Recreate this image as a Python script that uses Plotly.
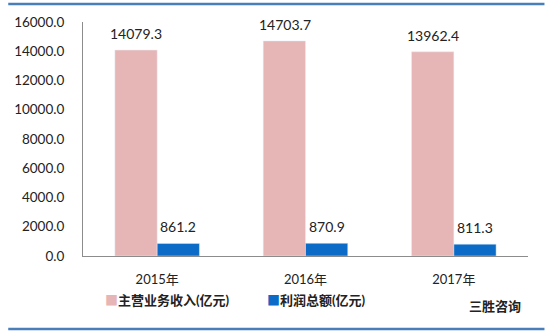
import plotly.graph_objects as go

years = ["2015年", "2016年", "2017年"]
revenue = [14079.3, 14703.7, 13962.4]
profit = [861.2, 870.9, 811.3]
series_names = ["主营业务收入(亿元)", "利润总额(亿元)"]
y_ticks = [0, 2000, 4000, 6000, 8000, 10000, 12000, 14000, 16000]
colors = ["#E6B5B6", "#0B6BC6"]

FONT = "Lato, 'Noto Sans CJK SC', sans-serif"

fig = go.Figure()
for vals, name, col in [(revenue, series_names[0], colors[0]), (profit, series_names[1], colors[1])]:
    fig.add_trace(go.Bar(x=years, y=vals, name=name, marker=dict(color=col), showlegend=False))

annotations = []
for vals, shift in [(revenue, -21), (profit, 21)]:
    for yr, v in zip(years, vals):
        annotations.append(dict(x=yr, y=v, xref="x", yref="y", text=f"{v:.1f}",
                                xshift=shift, yshift=6, yanchor="bottom", xanchor="center",
                                showarrow=False, font=dict(size=14, color="#222")))

annotations.append(dict(
    text=f'<span style="color:{colors[0]}">■</span><b>{series_names[0]}</b>',
    xref="paper", yref="paper", x=(103 - 83) / 445.5, y=(256 - 300) / 234,
    xanchor="left", yanchor="middle", showarrow=False, font=dict(size=13, color="#222")))
annotations.append(dict(
    text=f'<span style="color:{colors[1]}">■</span><b>{series_names[1]}</b>',
    xref="paper", yref="paper", x=(265 - 83) / 445.5, y=(256 - 300) / 234,
    xanchor="left", yanchor="middle", showarrow=False, font=dict(size=13, color="#222")))
annotations.append(dict(
    text="<b>三胜咨询</b>", xref="paper", yref="paper", x=0.925, y=-0.214,
    xanchor="center", yanchor="middle", showarrow=False, font=dict(size=13, color="#222")))

fig.update_layout(
    width=550, height=333,
    margin=dict(l=83, r=22, t=22, b=77),
    paper_bgcolor="white", plot_bgcolor="white",
    font=dict(family=FONT, size=13, color="#222"),
    barmode="group", bargap=0.43, bargroupgap=0,
    showlegend=False,
    xaxis=dict(showline=True, linecolor="#8c8c8c", linewidth=1, ticks="",
               showgrid=False, tickfont=dict(size=13), ticklabelstandoff=11),
    yaxis=dict(range=[0, 16000], tickvals=y_ticks,
               ticktext=[f"{v:.1f}" for v in y_ticks],
               showline=True, linecolor="#8c8c8c", linewidth=1, ticks="",
               showgrid=False, zeroline=False, tickfont=dict(size=13.5),
               ticklabelstandoff=15),
    shapes=[
        dict(type="line", xref="paper", yref="paper", x0=-0.168, x1=1.037,
             y0=1.077, y1=1.077, line=dict(color="#4A7EBB", width=2.5)),
        dict(type="line", xref="paper", yref="paper", x0=-0.168, x1=1.037,
             y0=-0.312, y1=-0.312, line=dict(color="#4A7EBB", width=2.5)),
    ],
    annotations=annotations,
)

fig.write_html("out.html")
